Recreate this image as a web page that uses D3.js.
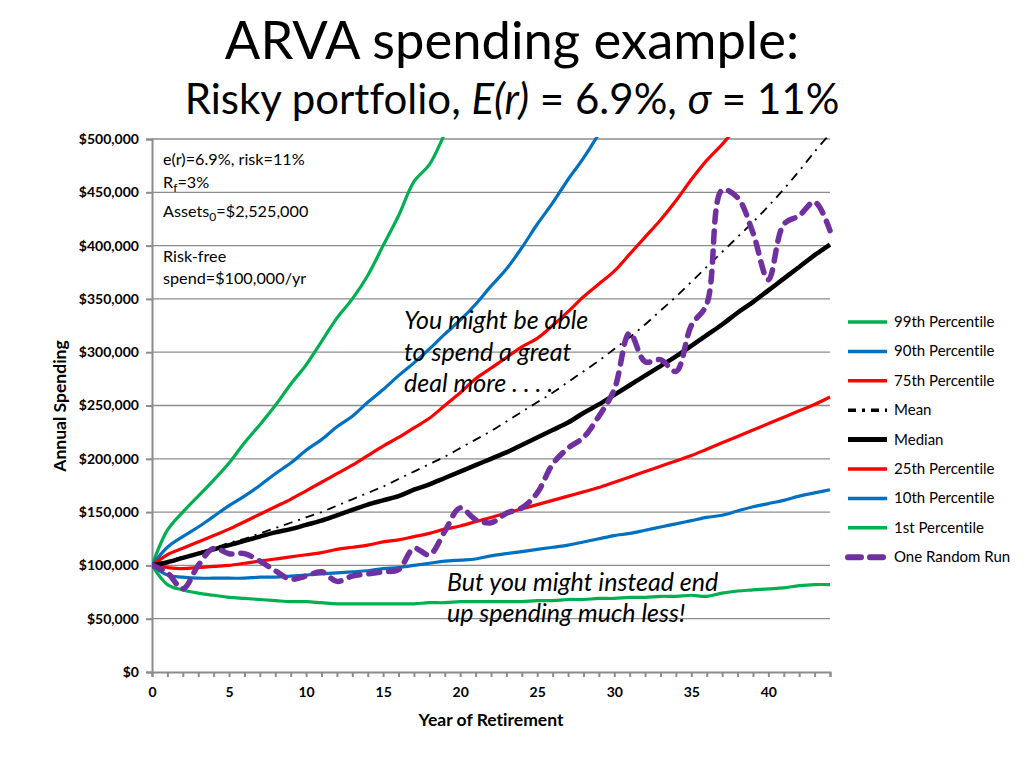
<!DOCTYPE html>
<html><head><meta charset="utf-8">
<script src="https://cdn.jsdelivr.net/npm/d3@7"></script>
<style>body{margin:0;background:#fff} svg text, svg tspan{font-variant-ligatures:none;font-feature-settings:"liga" 0,"clig" 0,"dlig" 0,"calt" 0;letter-spacing:0.01px;}</style>
</head><body><svg id="c" width="1024" height="768"></svg>
<script>
const years = d3.range(0, 45);
const p99 = [100000,133000,150000,165000,180000,196000,215000,232000,250000,270000,288000,310000,332000,350000,372000,400000,428000,460000,476000,505000,535000];
const p90 = [100000,117000,127000,136000,146000,156000,165000,175000,186000,196000,208000,218000,230000,240000,253000,265000,278000,290000,303000,317000,330000,345000,362000,378000,398000,420000,440000,462000,482000,505000,530000];
const p75 = [100000,110000,116000,122000,128000,134000,141000,148000,155000,162000,170000,178000,186000,194000,203000,212000,220000,229000,238000,250000,262000,275000,285000,295000,305000,313000,325000,338000,352000,364000,376000,392000,408000,424000,442000,462000,480000,495000,512000];
const meanV = [100000,104000,108000,112000,116000,121000,125000,130000,135000,140000,145000,150000,156000,162000,168000,174000,181000,188000,195000,202000,210000,218000,226000,235000,244000,253000,262000,272000,282000,292000,303000,314000,326000,339000,352000,366000,380000,394000,408000,422000,437000,453000,470000,488000,505000];
const median = [100000,103000,107000,111000,115000,119000,123000,127000,131000,134000,138000,142000,147000,152000,157000,161000,165000,171000,176000,182000,188000,194000,200000,206000,213000,220000,227000,234000,243000,251000,260000,269000,278000,287000,296000,306000,316000,326000,337000,347000,358000,369000,380000,391000,401000];
const p25 = [100000,98000,97000,98000,99000,100000,102000,104000,106000,108000,110000,112000,115000,117000,119000,122000,124000,127000,130000,134000,137000,141000,145000,149000,153000,157000,161000,165000,169000,173000,178000,183000,188000,193000,198000,203000,209000,215000,221000,227000,233000,239000,245000,251000,258000];
const p10 = [100000,91000,89000,88000,88000,88000,88000,89000,89000,90000,91000,92000,93000,94000,95000,97000,98000,100000,102000,104000,105000,106000,109000,111000,113000,115000,117000,119000,122000,125000,128000,130000,133000,136000,139000,142000,145000,147000,151000,155000,158000,161000,165000,168000,171000];
const p01 = [100000,82000,77000,74000,72000,70000,69000,68000,67000,66000,66000,65000,64000,64000,64000,64000,64000,64000,65000,65000,66000,66000,66000,66000,66000,67000,67000,68000,68000,69000,69000,70000,70000,71000,71000,72000,71000,74000,76000,77000,78000,79000,81000,82000,82000];
const randomRun = [100000,93000,78000,100000,116000,111000,111000,104000,95000,87000,90000,94000,85000,90000,92000,94000,96000,116000,110000,132000,154000,143000,140000,149000,154000,168000,195000,210000,220000,240000,265000,318000,291000,293000,282000,325000,345000,452000,445000,412000,368000,420000,428000,441000,414000];
const yTicks = [0,50000,100000,150000,200000,250000,300000,350000,400000,450000,500000];
const xTickLabels = [0,5,10,15,20,25,30,35,40];
const legendLabels = ["99th Percentile","90th Percentile","75th Percentile","Mean","Median","25th Percentile","10th Percentile","1st Percentile","One Random Run"];

const svg = d3.select("#c");
const font = "Lato, 'Open Sans', sans-serif";
const L = 152, R = 830, T = 139, B = 672;
const x = d3.scaleLinear().domain([0,44]).range([L,R]);
const y = d3.scaleLinear().domain([0,500000]).range([B,T]);

// Title
svg.append("text").attr("x",512).attr("y",59).attr("text-anchor","middle")
  .attr("font-family",font).attr("font-size",52.5).attr("fill","#000").text("ARVA spending example:");
const t2 = svg.append("text").attr("x",512).attr("y",114).attr("text-anchor","middle")
  .attr("font-family",font).attr("font-size",42).attr("fill","#000");
t2.append("tspan").text("Risky portfolio, ");
t2.append("tspan").attr("font-style","italic").text("E(r)");
t2.append("tspan").text(" = 6.9%, ");
t2.append("tspan").attr("font-style","italic").text("σ");
t2.append("tspan").text(" = 11%");

// gridlines
svg.append("g").selectAll("line").data(yTicks.filter(d=>d>0)).join("line")
  .attr("x1",L).attr("x2",R).attr("y1",d=>y(d)).attr("y2",d=>y(d))
  .attr("stroke","#8c8c8c").attr("stroke-width",1.3);

// axes
const yAxis = svg.append("g").attr("transform",`translate(${L},0)`)
  .call(d3.axisLeft(y).tickValues(yTicks).tickSize(6).tickPadding(7).tickFormat(d=>"$"+d3.format(",")(d)));
yAxis.selectAll("text").attr("font-family",font).attr("font-size",14).attr("font-weight","bold").attr("fill","#000");
yAxis.selectAll("line,path").attr("stroke","#8c8c8c").attr("stroke-width",2);

const xAxis = svg.append("g").attr("transform",`translate(0,${B})`)
  .call(d3.axisBottom(x).tickValues(years).tickSize(5).tickPadding(10).tickFormat(d=>xTickLabels.includes(d)?d:""));
xAxis.selectAll("text").attr("font-family",font).attr("font-size",14).attr("font-weight","bold").attr("fill","#000");
xAxis.selectAll("line,path").attr("stroke","#8c8c8c").attr("stroke-width",2);

svg.append("text").attr("transform","translate(66,406) rotate(-90)").attr("text-anchor","middle")
  .attr("font-family",font).attr("font-size",17.5).attr("font-weight","bold").text("Annual Spending");
svg.append("text").attr("x",491).attr("y",726).attr("text-anchor","middle")
  .attr("font-family",font).attr("font-size",17.5).attr("font-weight","bold").text("Year of Retirement");

// clip
svg.append("clipPath").attr("id","clip").append("rect").attr("x",L).attr("y",T-2).attr("width",R-L+4).attr("height",B-T+2);

const series = [
  {name:legendLabels[0], v:p99, color:"#00B050", w:3.2},
  {name:legendLabels[1], v:p90, color:"#0070C0", w:3.2},
  {name:legendLabels[2], v:p75, color:"#FF0000", w:3.2},
  {name:legendLabels[3], v:meanV, color:"#000", w:1.8, dash:"9,6,2,6"},
  {name:legendLabels[4], v:median, color:"#000", w:4.5},
  {name:legendLabels[5], v:p25, color:"#FF0000", w:3.2},
  {name:legendLabels[6], v:p10, color:"#0070C0", w:3.2},
  {name:legendLabels[7], v:p01, color:"#00B050", w:3.2},
  {name:legendLabels[8], v:randomRun, color:"#7030A0", w:5.5, dash:"11,9", cap:"round"}
];
const line = d3.line().x((d,i)=>x(i)).y(d=>y(d)).curve(d3.curveCatmullRom.alpha(0.5));
const g = svg.append("g").attr("clip-path","url(#clip)");
[0,1,2,5,6,7,3,4,8].forEach(k=>{
  const s = series[k];
  g.append("path").attr("d",line(s.v)).attr("fill","none").attr("stroke",s.color)
   .attr("stroke-width",s.w).attr("stroke-dasharray",s.dash||null)
   .attr("stroke-linecap",s.cap||"butt").attr("stroke-linejoin","round");
});

// legend
const lg = svg.append("g");
series.forEach((s,i)=>{
  const yy = 322 + i*29.4;
  lg.append("line").attr("x1",848).attr("x2",887).attr("y1",yy).attr("y2",yy)
    .attr("stroke",s.color).attr("stroke-width",s.name==="Median"?5:(s.name==="One Random Run"?6:3.5))
    .attr("stroke-dasharray",s.name==="Mean"?"8,6,3,6":(s.name==="One Random Run"?"13,9":null))
    .attr("stroke-linecap",s.name==="One Random Run"?"round":"butt");
  lg.append("text").attr("x",894).attr("y",yy+5).attr("font-family",font).attr("font-size",15).text(s.name);
});

// annotations
const ann = svg.append("g").attr("font-family",font).attr("font-size",16.2);
ann.append("text").attr("x",163).attr("y",165).text("e(r)=6.9%, risk=11%");
const rf = ann.append("text").attr("x",163).attr("y",188);
rf.append("tspan").text("R"); rf.append("tspan").attr("font-size",12).attr("dy",4).text("f"); rf.append("tspan").attr("dy",-4).text("=3%");
const as = ann.append("text").attr("x",163).attr("y",217);
as.append("tspan").text("Assets"); as.append("tspan").attr("font-size",12).attr("dy",4).text("0"); as.append("tspan").attr("dy",-4).text("=$2,525,000");
ann.append("text").attr("x",163).attr("y",262).text("Risk-free");
ann.append("text").attr("x",163).attr("y",284).text("spend=$100,000/yr");

const big = svg.append("g").attr("font-family",font).attr("font-size",25).attr("font-style","italic");
big.append("text").attr("x",404).attr("y",329).text("You might be able");
big.append("text").attr("x",404).attr("y",361).text("to spend a great");
big.append("text").attr("x",404).attr("y",392).text("deal more . . . .");
big.append("text").attr("x",447).attr("y",591).text("But you might instead end");
big.append("text").attr("x",447).attr("y",622).text("up spending much less!");
</script></body></html>
